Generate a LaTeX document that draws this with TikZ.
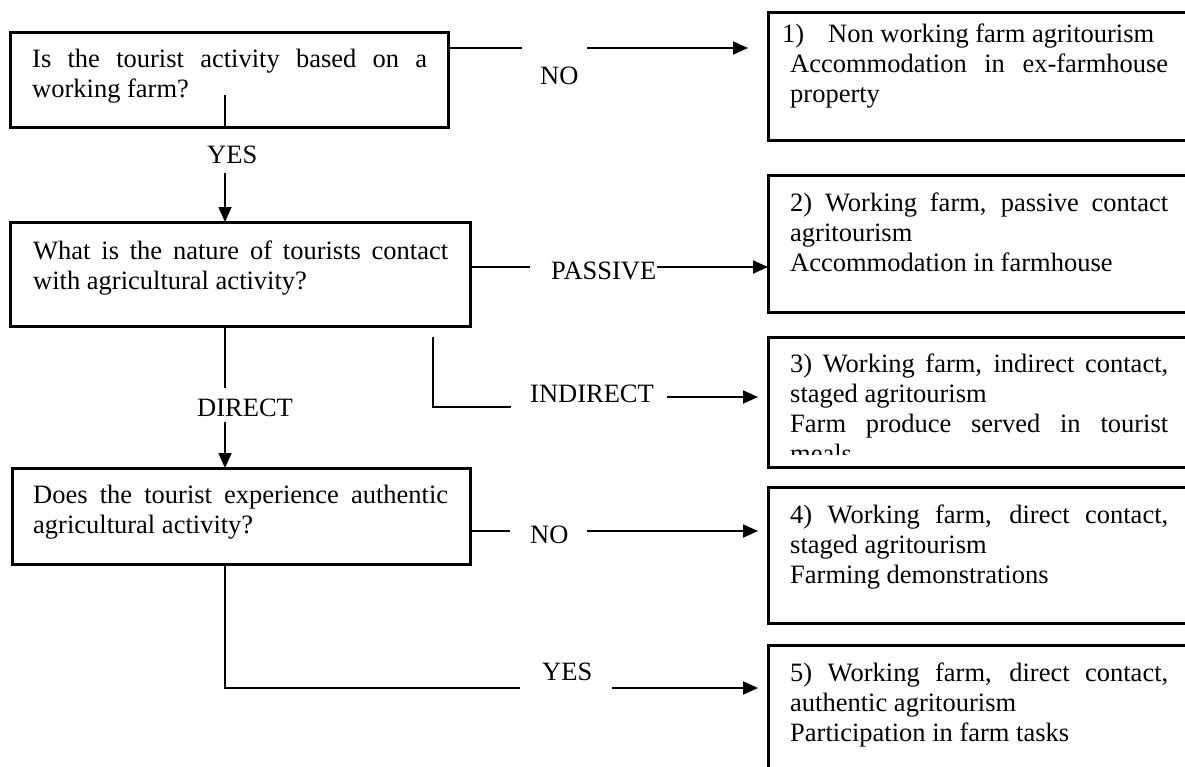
\documentclass[tikz,border=0pt]{standalone}
\usepackage{fontspec}
\setmainfont{Liberation Serif}
\usetikzlibrary{arrows.meta}
\newcommand\fsz{\fontsize{26.5}{30}\selectfont}
\newcommand\jl[2]{\makebox[#1][s]{#2}}
\begin{document}
\begin{tikzpicture}[x=1pt,y=-1pt,
  box/.style={draw, line width=3pt, rectangle, inner sep=0pt, outer sep=0pt, anchor=north west},
  conn/.style={line width=1.8pt},
  arr/.style={line width=1.8pt, -{Triangle[length=15pt,width=13pt]}},
  lbl/.style={inner sep=0pt, anchor=base west, font=\fsz},
  txt/.style={inner sep=0pt, anchor=base west, font=\fsz},
]
\useasboundingbox (0,0) rectangle (1185,766);
\clip (0,0) rectangle (1185,766);

% question boxes
\node[box, minimum width=438pt, minimum height=95pt]  (q1) at (10,32)  {};
\node[box, minimum width=460pt, minimum height=104pt] (q2) at (10,222) {};
\node[box, minimum width=458pt, minimum height=96pt]  (q3) at (12,468) {};

% result boxes (right side runs past the edge)
\node[box, minimum width=430pt, minimum height=128pt] (r1) at (768,12)  {};
\node[box, minimum width=430pt, minimum height=137pt] (r2) at (768,175) {};
\node[box, minimum width=430pt, minimum height=130pt] (r3) at (768,337) {};
\node[box, minimum width=430pt, minimum height=136pt] (r4) at (768,487) {};
\node[box, minimum width=430pt, minimum height=150pt] (r5) at (768,645) {};

% texts
\node[txt] (q1t) at (32,67) {\parbox[t]{395pt}{\jl{395pt}{Is the tourist activity based on a}\\working farm?}};
\node[txt] (q2t) at (33,259) {\parbox[t]{415pt}{\jl{415pt}{What is the nature of tourists contact}\\with agricultural activity?}};
\node[txt] (q3t) at (33,503) {\parbox[t]{415pt}{\jl{415pt}{Does the tourist experience authentic}\\agricultural activity?}};

\node[txt] (r1t) at (782,42) {\parbox[t]{386pt}{\makebox[46pt][l]{1)}Non working farm agritourism\\\hspace*{8pt}\jl{378pt}{Accommodation in ex-farmhouse}\\\hspace*{8pt}property}};
\node[txt] (r2t) at (790,211) {\parbox[t]{378pt}{\jl{378pt}{2) Working farm, passive contact}\\agritourism\\Accommodation in farmhouse}};
\begin{scope}
\clip (768,337) rectangle (1185,454);
\node[txt] (r3t) at (790,372) {\parbox[t]{378pt}{\jl{378pt}{3) Working farm, indirect contact,}\\staged agritourism\\\jl{378pt}{Farm produce served in tourist}\\meals}};
\end{scope}
\node[txt] (r4t) at (790,523) {\parbox[t]{378pt}{\jl{378pt}{4) Working farm, direct contact,}\\staged agritourism\\Farming demonstrations}};
\node[txt] (r5t) at (790,681) {\parbox[t]{378pt}{\jl{378pt}{5) Working farm, direct contact,}\\authentic agritourism\\Participation in farm tasks}};

% Q1 -> NO -> r1
\draw[conn] (448,48) -- (522,48);
\node[lbl] (no1) at (540,84) {NO};
\draw[arr] (587,48) -- (748,48);

% Q1 -> YES -> Q2
\draw[conn] (225,95) -- (225,127);
\node[lbl] (yes1) at (207,163) {YES};
\draw[arr] (225,173) -- (225,222);

% Q2 -> PASSIVE -> r2
\draw[conn] (470,267) -- (530,267);
\node[lbl] (pas) at (551,279) {PASSIVE};
\draw[arr] (657,267) -- (768,267);

% Q2 -> INDIRECT -> r3
\draw[conn] (433,337) -- (433,407) -- (511,407);
\node[lbl] (ind) at (530,402) {INDIRECT};
\draw[arr] (667,397) -- (758,397);

% Q2 -> DIRECT -> Q3
\draw[conn] (225,326) -- (225,388);
\node[lbl] (dir) at (197,416) {DIRECT};
\draw[arr] (225,422) -- (225,468);

% Q3 -> NO -> r4
\draw[conn] (470,531) -- (510,531);
\node[lbl] (no2) at (530,543) {NO};
\draw[arr] (587,531) -- (758,531);

% Q3 -> YES -> r5
\draw[conn] (225,564) -- (225,688) -- (520,688);
\node[lbl] (yes2) at (542,680) {YES};
\draw[arr] (612,688) -- (758,688);
\end{tikzpicture}
\end{document}
